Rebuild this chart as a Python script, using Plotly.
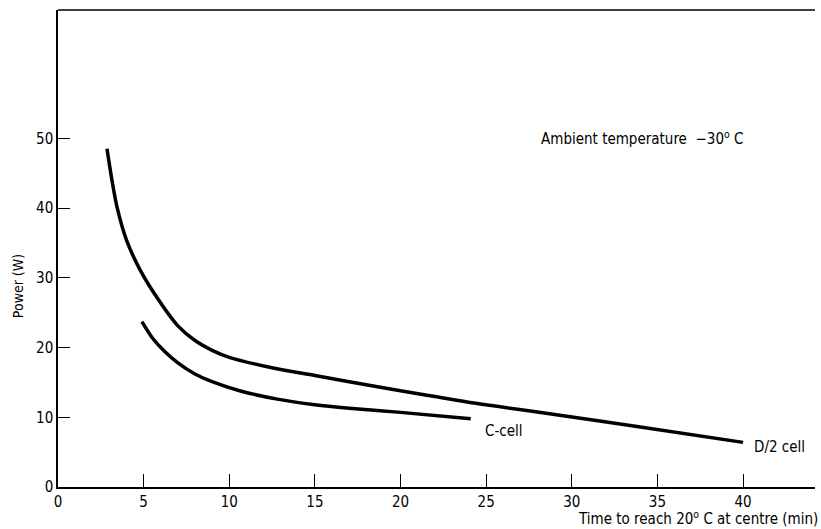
import plotly.graph_objects as go

# D/2 cell curve
d2_x = [2.86, 3.15, 3.44, 4.0, 4.8, 5.77, 7.0, 8.0, 9.0, 10.0, 12.5, 15.0, 17.0, 20.0, 24.4, 29.3, 34.0, 40.0]
d2_y = [48.5, 44.0, 40.2, 35.4, 31.1, 27.2, 23.1, 21.0, 19.6, 18.6, 17.1, 16.0, 15.1, 13.8, 12.0, 10.3, 8.6, 6.4]

# C-cell curve
c_x = [4.9, 5.5, 6.2, 7.0, 8.0, 9.0, 10.6, 12.8, 15.0, 17.0, 20.0, 24.1]
c_y = [23.7, 21.4, 19.5, 17.8, 16.2, 15.1, 13.8, 12.6, 11.8, 11.3, 10.7, 9.8]

x_ticks = [0, 5, 10, 15, 20, 25, 30, 35, 40]
y_ticks = [0, 10, 20, 30, 40, 50]

FONT = "DejaVu Sans Condensed, Liberation Sans Narrow, DejaVu Sans, sans-serif"

fig = go.Figure()
for xs, ys in [(d2_x, d2_y), (c_x, c_y)]:
    fig.add_trace(go.Scatter(x=xs, y=ys, mode="lines",
                             line=dict(color="black", width=3.5, shape="spline", smoothing=0.8),
                             showlegend=False, hoverinfo="skip"))

fig.add_annotation(x=24.8, y=8.1, text="C-cell", showarrow=False, xanchor="left", yanchor="middle",
                   font=dict(size=15, color="black", family=FONT))
fig.add_annotation(x=40.5, y=5.7, text="D/2 cell", showarrow=False, xanchor="left", yanchor="middle",
                   font=dict(size=15, color="black", family=FONT))
fig.add_annotation(x=28.1, y=50.1, text="Ambient temperature  \u221230<sup>o</sup> C", showarrow=False,
                   xanchor="left", yanchor="middle",
                   font=dict(size=15, color="black", family=FONT))
fig.add_annotation(xref="paper", yref="paper", x=1.0, y=0, xanchor="right", yanchor="middle",
                   yshift=-31, xshift=5,
                   text="Time to reach 20<sup>o</sup> C at centre (min)", showarrow=False,
                   font=dict(size=15, color="black", family=FONT))
fig.add_annotation(xref="paper", yref="y", x=0, y=28.8, xanchor="center", yanchor="middle",
                   xshift=-40, textangle=-90, text="Power (W)", showarrow=False,
                   font=dict(size=14, color="black", family=FONT))

# top frame line
fig.add_shape(type="line", xref="paper", yref="paper", x0=0, x1=1, y0=1, y1=1,
              line=dict(color="black", width=1.5))

fig.update_layout(
    width=821, height=529,
    margin=dict(l=58, r=6, t=10, b=42),
    paper_bgcolor="white", plot_bgcolor="white",
    font=dict(family=FONT, size=15, color="black"),
    xaxis=dict(range=[0, 44.2], tickvals=x_ticks, ticks="inside", ticklen=13, tickwidth=1.2,
               tickcolor="black", showline=True, linecolor="black", linewidth=1.5,
               showgrid=False, zeroline=False, tickfont=dict(size=15)),
    yaxis=dict(range=[0, 68.4], tickvals=y_ticks, ticks="inside", ticklen=12, tickwidth=1.2,
               tickcolor="black", showline=True, linecolor="black", linewidth=1.5,
               showgrid=False, zeroline=False, tickfont=dict(size=15)),
)

fig.write_html("out.html", config={"displayModeBar": False},
               post_script="document.body.style.margin='0';document.body.style.overflow='hidden';")
